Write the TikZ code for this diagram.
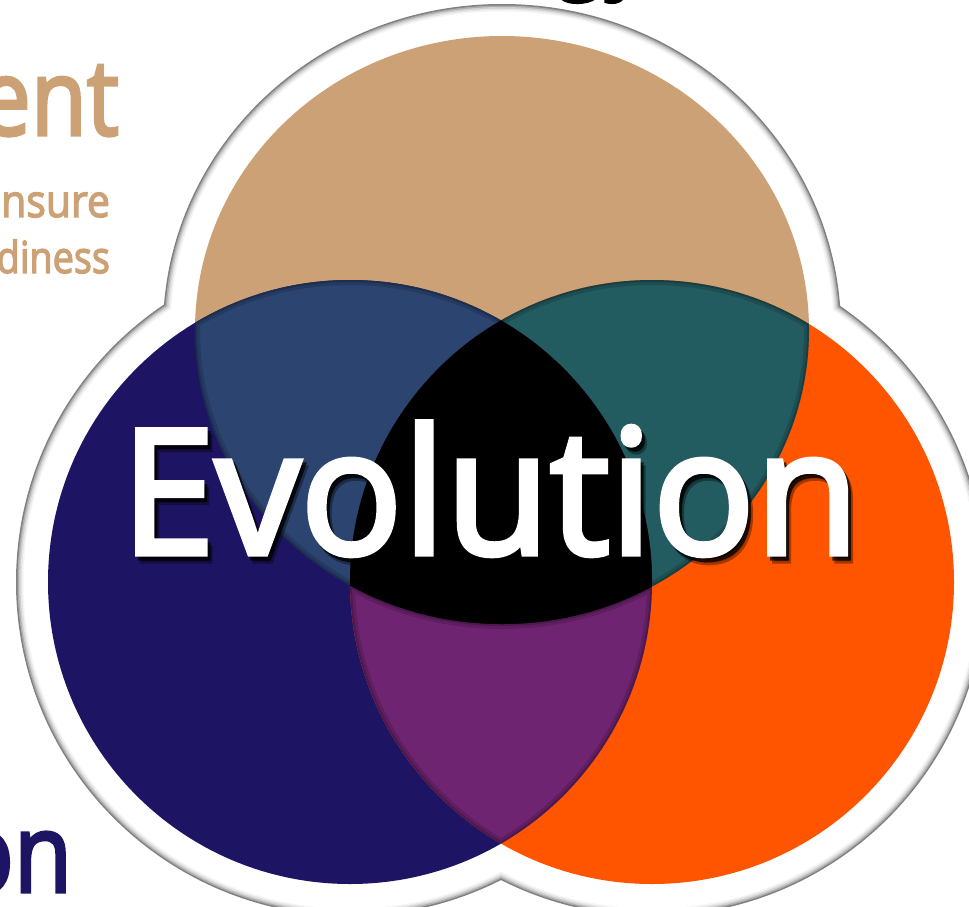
\documentclass[tikz,border=0pt]{standalone}
\usepackage{fontspec}
\setmainfont{Open Sans}
\newfontfamily\semib[RawFeature={embolden=3}]{Open Sans}
\definecolor{tanC}{HTML}{CCA176}
\definecolor{navyC}{HTML}{1E1464}
\definecolor{orangeC}{HTML}{FF5500}
\definecolor{blueOv}{HTML}{2B4470}
\definecolor{tealOv}{HTML}{225B60}
\definecolor{purpOv}{HTML}{6E2470}
\newcommand{\shT}[1]{(502,330) ellipse [x radius={307pt+#1pt}, y radius={294pt+#1pt}]}
\newcommand{\shL}[1]{(350,582) circle [radius={302pt+#1pt}]}
\newcommand{\shR}[1]{(652,582) circle [radius={302pt+#1pt}]}
\newcommand{\evofont}{\semib\fontsize{174}{174}\selectfont}
\tikzset{
  lbl/.style={inner sep=0pt, outer sep=0pt},
  side/.style={lbl, xscale=0.86},
  evostyle/.style={lbl, xscale=0.975, font=\evofont, anchor=base west},
  edgeshade/.style={draw=black, draw opacity=0.14, line width=10pt},
  edgeshadeB/.style={draw=black, draw opacity=0.18, line width=4pt},
}
\begin{document}
\begin{tikzpicture}[x=1pt,y=-1pt]
\useasboundingbox (0,0) rectangle (969,907);
\clip (0,0) rectangle (969,907);
\fill[white] (0,0) rectangle (969,907);
% white border with soft rim
\foreach \d/\c in {32/black!50, 30.5/black!32, 29/black!19, 27.5/black!10, 26/black!4, 24.5/white}
  \fill[\c] \shT{\d} \shL{\d} \shR{\d};
% base discs
\fill[tanC] \shT{0};
\fill[navyC] \shL{0};
\fill[orangeC] \shR{0};
% overlaps
\begin{scope}
  \clip \shT{0};
  \fill[blueOv] \shL{0};
  \fill[tealOv] \shR{0};
\end{scope}
\begin{scope}
  \clip \shL{0};
  \fill[purpOv] \shR{0};
  \clip \shT{0};
  \fill[black] \shR{0};
\end{scope}
% inner shading along overlap edges
\begin{scope}
  \clip \shT{0}; \clip \shL{0};
  \draw[edgeshade] \shT{0} \shL{0};
  \draw[edgeshadeB] \shT{0} \shL{0};
\end{scope}
\begin{scope}
  \clip \shT{0}; \clip \shR{0};
  \draw[edgeshade] \shT{0} \shR{0};
  \draw[edgeshadeB] \shT{0} \shR{0};
\end{scope}
\begin{scope}
  \clip \shL{0}; \clip \shR{0};
  \draw[edgeshade] \shL{0} \shR{0} \shT{0};
  \draw[edgeshadeB] \shL{0} \shR{0} \shT{0};
\end{scope}
% side texts
\node[side, text=tanC, font=\semib\fontsize{106}{106}\selectfont, anchor=base east] (ent) at (119,135) {ent};
\node[side, text=tanC, font=\semib\fontsize{45}{45}\selectfont, xscale=1.06, anchor=base east] (ensure) at (110,217) {nsure};
\node[side, text=tanC, font=\semib\fontsize{44}{44}\selectfont, anchor=base east] (readiness) at (110,273) {diness};
\node[side, text=navyC, font=\semib\fontsize{110}{110}\selectfont, anchor=base east] (on) at (72,892) {on};
\node[side, text=black, font=\semib\fontsize{106}{106}\selectfont, anchor=base west] (gy) at (555,-23) {gy};
% title with drop shadow
\node[evostyle, text=black, text opacity=0.35] (evoS2) at (126,561) {Evolution};
\node[evostyle, text=black, text opacity=0.7] (evoS) at (124,558) {Evolution};
\node[evostyle, text=white] (evo) at (121,554) {Evolution};
\end{tikzpicture}
\end{document}
